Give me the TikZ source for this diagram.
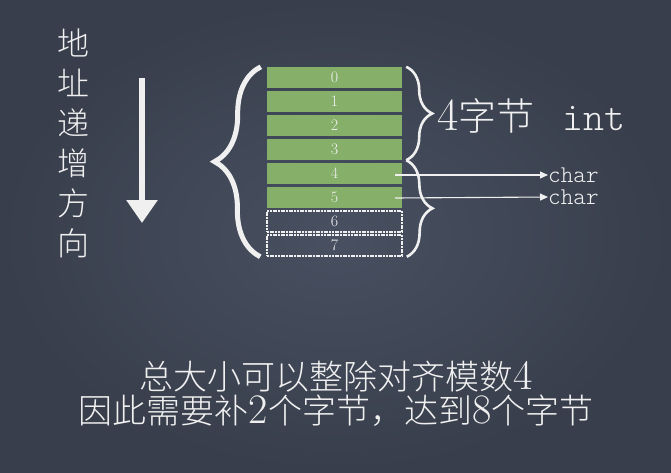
\documentclass[tikz,border=0pt]{standalone}
\usepackage{fontspec}
\IfFontExistsTF{Noto Sans CJK SC Light}
  {\newfontfamily\cjk{Noto Sans CJK SC Light}}
  {\IfFontExistsTF{Noto Sans CJK SC DemiLight}
    {\newfontfamily\cjk{Noto Sans CJK SC DemiLight}}
    {\newfontfamily\cjk{Noto Sans CJK SC}}}
\IfFontExistsTF{Latin Modern Mono Light}
  {\newfontfamily\lmono{Latin Modern Mono Light}}
  {\newcommand\lmono{\ttfamily}}
\usetikzlibrary{decorations.pathreplacing,arrows.meta}
\definecolor{board}{HTML}{383E4B}
\definecolor{boardc}{HTML}{485061}
\definecolor{cell}{HTML}{86AF69}
\definecolor{chalk}{HTML}{F0F0F0}
\newcommand\dg[2]{{\rmfamily\fontsize{#1}{#1}\selectfont #2}}
\tikzset{
  cellbox/.style={fill=cell, minimum width=135pt, minimum height=21pt, inner sep=0pt,
    text=chalk, font=\rmfamily\fontsize{16}{16}\selectfont},
  emptybox/.style={draw=chalk, line width=1.5pt, dash pattern=on 2pt off 0.7pt,
    minimum width=135pt, minimum height=21pt, inner sep=0pt,
    text=chalk, font=\rmfamily\fontsize{16}{16}\selectfont},
  bigbrace/.style={draw=chalk, line width=5pt, decorate, decoration={brace, amplitude=46pt}},
  smallbrace/.style={draw=chalk, line width=2.6pt, decorate, decoration={brace, amplitude=26pt}},
  ptr/.style={draw=chalk, line width=1.1pt, -{Triangle[width=7pt,length=8pt]}},
  chalktext/.style={text=chalk, inner sep=0pt},
}
\begin{document}
\begin{tikzpicture}[x=1pt,y=-1pt]
\useasboundingbox (0,0) rectangle (671,472);
\shade[inner color=boardc, outer color=board] (0,0) rectangle (671,472);

% cells
\node[cellbox] (c0) at (334.5,77.5) {0};
\node[cellbox] (c1) at (334.5,101.5) {1};
\node[cellbox] (c2) at (334.5,125.5) {2};
\node[cellbox] (c3) at (334.5,149.5) {3};
\node[cellbox] (c4) at (334.5,173.5) {4};
\node[cellbox] (c5) at (334.5,197.5) {5};
\node[emptybox] (c6) at (334.5,221.5) {6};
\node[emptybox] (c7) at (334.5,245.5) {7};

% braces
\draw[bigbrace] ([xshift=-6pt]c7.south west) -- ([xshift=-6pt]c0.north west);
\draw[smallbrace] ([xshift=4pt]c0.north east) -- ([xshift=4pt]c3.south east);
\draw[smallbrace] ([xshift=4pt]c3.south east) -- ([xshift=4pt]c7.south east);

% labels right
\node[chalktext, anchor=base west, font=\fontsize{38}{38}\selectfont] (int4) at (437,130) {\dg{46}{4}\cjk 字节};
\node[chalktext, anchor=base west, font=\lmono\fontsize{40}{40}\selectfont] (int) at (562,130) {int};
\node[chalktext, anchor=west, font=\lmono\fontsize{24}{24}\selectfont] (ch1) at (548,175) {char};
\node[chalktext, anchor=west, font=\lmono\fontsize{24}{24}\selectfont] (ch2) at (548,197) {char};
\coordinate (p4) at (395,175);
\coordinate (p5) at (395,198);
\draw[ptr] (p4) -- (ch1.west);
\draw[ptr] (p5) -- (ch2.west);

% left vertical text and arrow
\node[chalktext, align=center, font=\cjk\fontsize{32}{40}\selectfont] (dir) at (73,143) {地\\址\\递\\增\\方\\向};
\coordinate (a1) at (142,78);
\coordinate (a2) at (142,223);
\draw[draw=chalk, line width=6.5pt, -{Triangle[width=30pt,length=23pt]}] (a1) -- (a2);

% bottom text
\node[chalktext, align=center, font=\cjk\fontsize{34}{34}\selectfont] (note) at (336,394)
  {总大小可以整除对齐模数\dg{42}{4}\\因此需要补\dg{42}{2}个字节，达到\dg{42}{8}个字节};
\end{tikzpicture}
\end{document}
